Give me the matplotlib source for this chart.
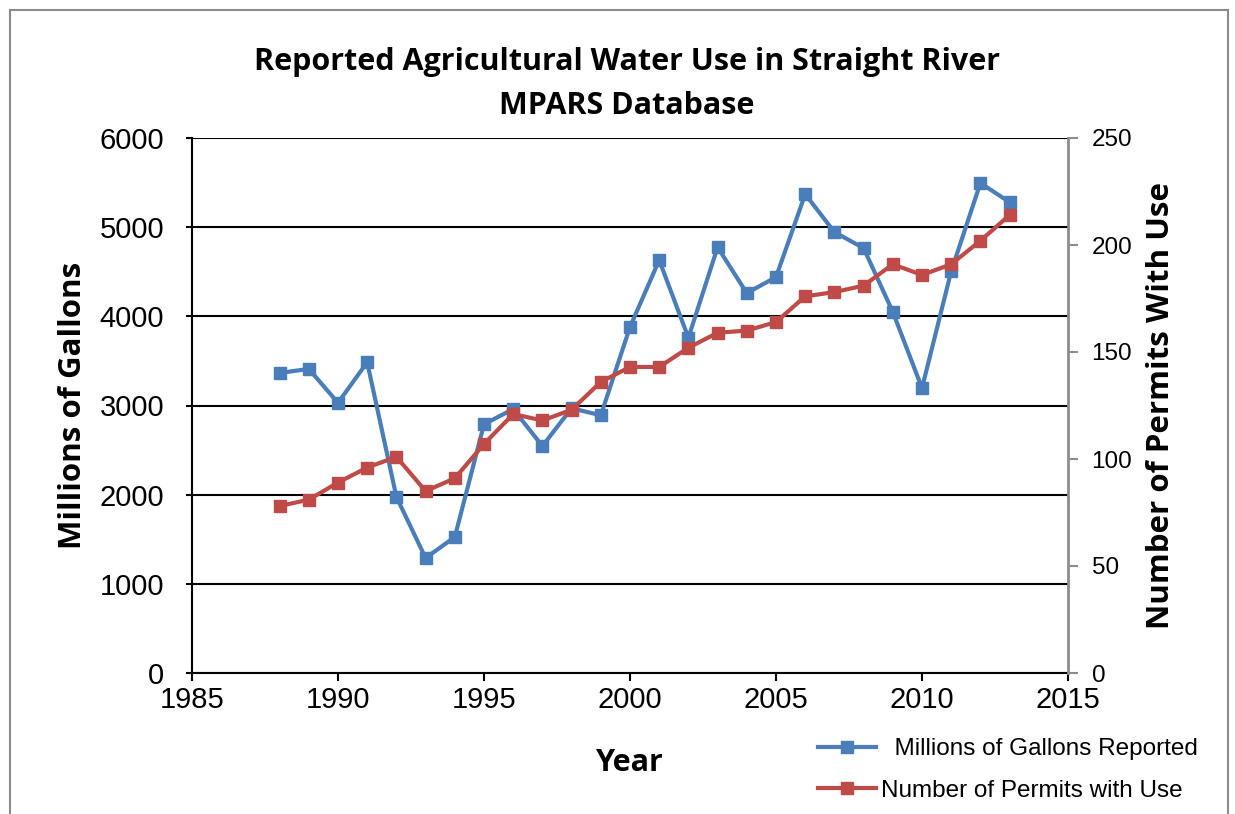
import numpy as np
import matplotlib
matplotlib.use("Agg")
import matplotlib.pyplot as plt
from matplotlib.patches import Rectangle

# data ########################################################################
years = list(range(1988, 2014))
gallons = [3365, 3410, 3030, 3485, 1975, 1290, 1525, 2790, 2960, 2545,
           2970, 2890, 3880, 4630, 3760, 4775, 4260, 4440, 5370, 4945,
           4765, 4050, 3195, 4505, 5495, 5280]
permits = [78, 81, 89, 96, 101, 85, 91, 107, 121, 118,
           123, 136, 143, 143, 152, 159, 160, 164, 176, 178,
           181, 191, 186, 191, 202, 214]

blue = "#4A7EBB"
red = "#BE4B48"
plt.rcParams['font.family'] = ['Liberation Sans', 'DejaVu Sans']

fig = plt.figure(figsize=(12.35, 8.14), dpi=100)
ax = fig.add_axes([192/1235, 1-673/814, (1068-192)/1235, (673-138)/814])

# cadre gris autour du graphique
fig.patches.append(Rectangle((10/1235, -0.05), 1218/1235, 1-10/814+0.05,
                             transform=fig.transFigure, fill=False,
                             edgecolor="#8C8C8C", lw=1.5))

l1, = ax.plot(years, gallons, color=blue, lw=3, marker="s", ms=9,
              label="  Millions of Gallons Reported")
ax.set_xlim(1985, 2015)
ax.set_ylim(0, 6000)
ax.set_xticks(range(1985, 2016, 5))
ax.set_yticks(range(0, 6001, 1000))
ax.grid(axis="y", color="black", lw=1.5)
ax.set_axisbelow(True)
ax.tick_params(labelsize=21, direction="out", length=6, width=1.5, color="black")
ax.tick_params(axis="y", length=4, pad=16)
for s in ["top", "right"]:
    ax.spines[s].set_visible(False)
for s in ["left", "bottom"]:
    ax.spines[s].set_linewidth(1.5)
ax.set_xlabel("Year", fontsize=22, fontweight="bold", family="Open Sans", labelpad=24)
ax.set_ylabel("Millions of Gallons", fontsize=22.5, fontweight="bold", family="Open Sans", labelpad=8)

ax2 = ax.twinx()
l2, = ax2.plot(years, permits, color=red, lw=3, marker="s", ms=9,
               label="Number of Permits with Use")
ax2.set_ylim(0, 250)
ax2.set_yticks(range(0, 251, 50))
ax2.tick_params(labelsize=17.5, direction="out", length=7, width=1.5, color="#8C8C8C", pad=10)
for s in ["top", "left", "bottom"]:
    ax2.spines[s].set_visible(False)
ax2.spines["right"].set_color("#8C8C8C")
ax2.spines["right"].set_linewidth(2)
ax2.set_ylabel("Number of Permits With Use", fontsize=22.5, fontweight="bold",
               family="Open Sans", labelpad=10)

fig.text(627/1235, 1-62/814, "Reported Agricultural Water Use in Straight River",
         ha="center", va="center", fontsize=22, fontweight="bold", family="Open Sans")
fig.text(627/1235, 1-106/814, "MPARS Database",
         ha="center", va="center", fontsize=22, fontweight="bold", family="Open Sans")

fig.legend(handles=[l1, l2], loc="center", bbox_to_anchor=(1008/1235, 1-770/814),
           frameon=False, fontsize=17.5, handlelength=2.4, handletextpad=0.2,
           labelspacing=0.8)

plt.savefig("out.png", dpi=100)
